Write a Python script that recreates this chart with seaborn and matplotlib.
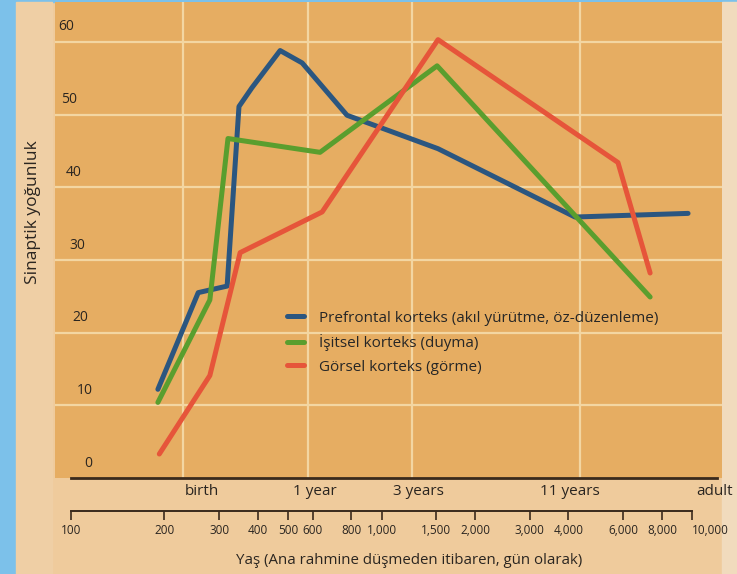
import pandas as pd
import matplotlib.pyplot as plt
import matplotlib.patches as mpatches
import seaborn as sns

# data (x = days since conception, y = synaptic density)
prefrontal_days = [190, 256, 317, 346, 381, 469, 552, 769, 1507, 4150, 9570]
prefrontal_vals = [12.2, 25.5, 26.4, 51.1, 53.7, 58.8, 57.1, 49.9, 45.3, 35.9, 36.4]

isitsel_days = [190, 279, 319, 630, 1497, 7230]
isitsel_vals = [10.4, 24.5, 46.7, 44.8, 56.7, 24.9]

gorsel_days = [192, 279, 349, 640, 1507, 5700, 7230]
gorsel_vals = [3.3, 14.1, 31.0, 36.6, 60.3, 43.4, 28.2]

series_names = ['Prefrontal korteks (akıl yürütme, öz-düzenleme)',
                'İşitsel korteks (duyma)',
                'Görsel korteks (görme)']
series_colors = ['#2b5680', '#5a9e2e', '#e6553a']

age_labels = ['birth', '1 year', '3 years', '11 years', 'adult']
age_days = [263, 607, 1300, 4000, 11670]

ruler_days = [100, 200, 300, 400, 500, 600, 800, 1000, 1500, 2000,
              3000, 4000, 6000, 8000, 10000]
y_ticks = [0, 10, 20, 30, 40, 50, 60]
grid_days = [229, 576, 1245, 4300]

df = pd.concat([
    pd.DataFrame({'gun': prefrontal_days, 'yogunluk': prefrontal_vals, 'korteks': series_names[0]}),
    pd.DataFrame({'gun': isitsel_days, 'yogunluk': isitsel_vals, 'korteks': series_names[1]}),
    pd.DataFrame({'gun': gorsel_days, 'yogunluk': gorsel_vals, 'korteks': series_names[2]}),
], ignore_index=True)

sns.set_style('white')
plt.rcParams['font.family'] = ['Open Sans', 'DejaVu Sans']
txt = '#2a2520'

W, H = 737, 574
fig = plt.figure(figsize=(W / 100, H / 100), dpi=100, facecolor='#efcb9c')

# photo frame bits: blue strip left/top, pale edges
def band(x, y, w, h, c):
    fig.patches.append(mpatches.Rectangle((x / W, y / H), w / W, h / H,
                                          transform=fig.transFigure, color=c, zorder=-10))

band(0, 0, 16, H, '#7cc1ea')
band(16, H - 2, W, 2, '#7cc1ea')
band(722, 0, 15, H - 2, '#f1dbbd')
band(16, 0, 36, H - 2, '#efcfa5')

# main chart
ax = fig.add_axes([55 / W, (H - 478) / H, (722 - 55) / W, (478 - 2) / H])
ax.set_facecolor('#e6ad62')
ax.set_xscale('log')
ax.set_xlim(88.8, 12300)
ax.set_ylim(0, 478 / 7.3)

for v in y_ticks[1:]:
    ax.axhline(v, color='#f3d6a2', lw=1.6, zorder=1)
for d in grid_days:
    ax.axvline(d, color='#f3d6a2', lw=1.6, zorder=1)

sns.lineplot(data=df, x='gun', y='yogunluk', hue='korteks', palette=series_colors,
             hue_order=series_names, estimator=None, sort=False, lw=3.6, ax=ax, zorder=3)

# y labels sit above their gridlines, drifting left a bit with height (as in the photo)
for v in y_ticks:
    ax.text((33 - v * 0.37) / 667, v + 2.05, str(v), transform=ax.get_yaxis_transform(),
            ha='center', va='center', fontsize=10, color=txt)

ax.set_yticks([])
ax.set_xticks(age_days)
ax.set_xticklabels(age_labels, fontsize=11, color=txt)
ax.xaxis.set_minor_locator(plt.NullLocator())
ax.tick_params(axis='x', length=0, pad=4)
ax.set_xlabel('')
ax.set_ylabel('')
for s in ['top', 'right', 'left']:
    ax.spines[s].set_visible(False)
ax.spines['bottom'].set_color('#3a2a1c')
ax.spines['bottom'].set_linewidth(2)
ax.spines['bottom'].set_bounds(100, 11860)

ax.legend(loc='upper left', bbox_to_anchor=(0.338, 0.364), frameon=False,
          fontsize=11, handlelength=1.15, handletextpad=1.0, labelspacing=0.55,
          borderaxespad=0)

# day ruler under the chart
rx = fig.add_axes([71 / W, (H - 511) / H, (692 - 71) / W, 0.0001])
rx.set_facecolor('none')
rx.set_xscale('log')
rx.set_xlim(100, 10000)
rx.set_yticks([])
rx.set_xticks(ruler_days)
rx.set_xticklabels([f'{d:,}' for d in ruler_days], fontsize=8.5, color=txt)
rx.get_xticklabels()[-1].set_horizontalalignment('left')
rx.xaxis.set_minor_locator(plt.NullLocator())
rx.tick_params(axis='x', bottom=True, direction='out', length=6.5, width=1.2,
               color='#3a2a1c', pad=3)
for s in ['top', 'right', 'left']:
    rx.spines[s].set_visible(False)
rx.spines['bottom'].set_color('#3a2a1c')
rx.spines['bottom'].set_linewidth(1.4)

fig.text(409 / W, 1 - 561 / H, 'Yaş (Ana rahmine düşmeden itibaren, gün olarak)',
         ha='center', va='center', fontsize=10.8, color=txt)
fig.text(33 / W, 1 - 212 / H, 'Sinaptik yoğunluk', rotation=90,
         ha='center', va='center', fontsize=12.5, color=txt)

fig.savefig('out.png', dpi=100, facecolor=fig.get_facecolor())
